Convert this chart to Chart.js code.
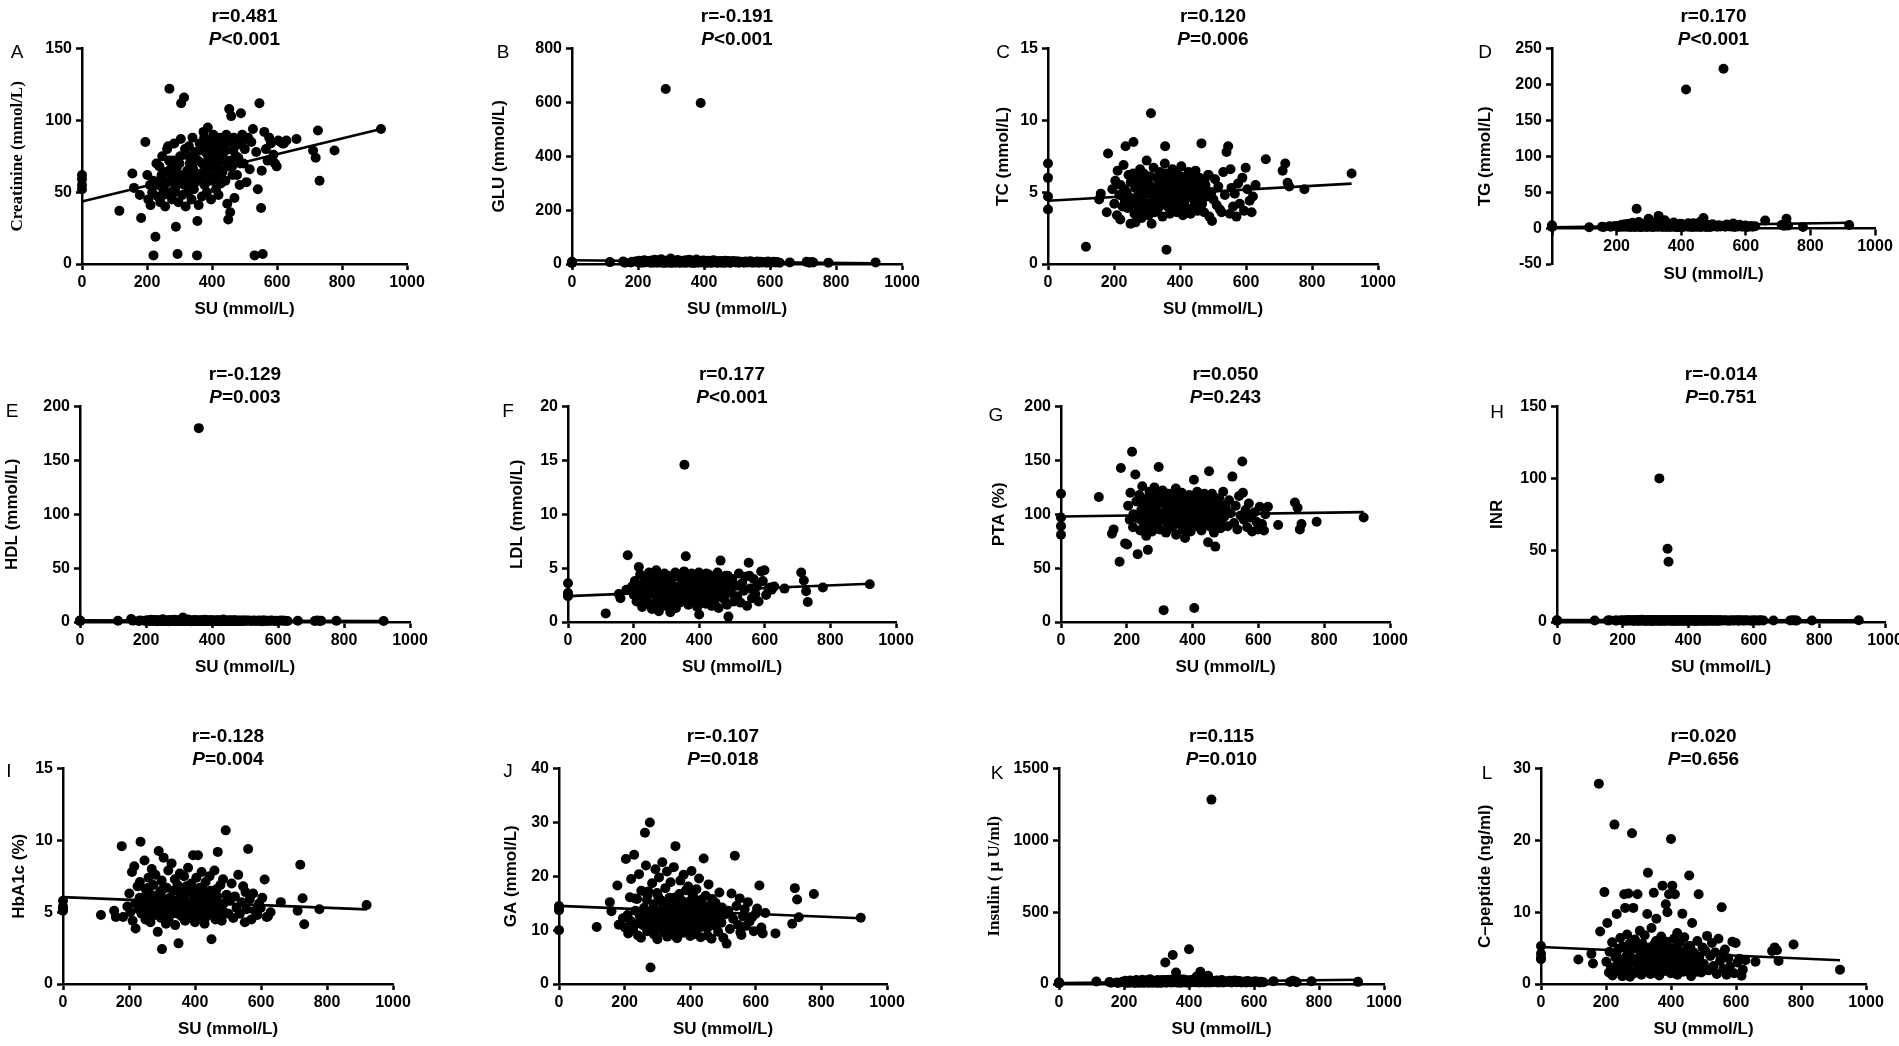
<!DOCTYPE html>
<html>
<head>
<meta charset="utf-8">
<script src="https://cdn.jsdelivr.net/npm/chart.js@4.4.1/dist/chart.umd.min.js"></script>
<style>
html,body{margin:0;padding:0;background:#fff;}
body{width:1899px;height:1046px;position:relative;overflow:hidden;font-family:'Liberation Sans',Arial,sans-serif;color:#000;}
.box{position:absolute;}
.box canvas{display:block;}
.ttl{position:absolute;transform:translateX(-50%);text-align:center;font-weight:bold;font-size:19px;line-height:23px;white-space:nowrap;}
.lt{position:absolute;font-size:19px;transform:translate(-50%,-50%);}
</style>
</head>
<body>
<script>
// SU of every patient (x for all twelve panels)
const su = [
  0,0,0,0,115,155,160,178,182,195,
  201,204,209,211,216,219,220,226,229,233,
  235,238,241,244,247,250,251,256,259,262,
  264,265,269,270,274,277,279,280,284,287,
  289,290,294,297,299,300,304,305,309,312,
  314,315,319,320,324,327,329,330,334,337,
  339,340,344,347,349,350,354,355,359,360,
  364,367,369,370,374,377,379,380,384,387,
  389,390,394,397,399,400,404,405,409,412,
  414,415,419,420,424,427,429,432,435,438,
  441,444,447,450,453,456,459,462,465,469,
  473,477,481,485,489,493,497,501,506,511,
  516,521,526,531,536,541,546,551,556,561,
  566,571,576,581,589,594,599,604,611,617,
  621,629,660,711,719,726,731,777,920,553,
  252,268,276,286,293,302,308,317,325,332,
  342,348,352,357,362,366,372,376,382,386,
  392,396,402,407,411,417,422,426,431,436,
  442,448,454,458,463,467,474,479,487,495,
  232,245,258,272,283,296,318,335,371,398
];

const creatinine = [
  52,55,59,62,37,63,53,48,32,85,
  62,45,55,41,50,58,6,19,70,47,
  55,68,43,60,75,52,48,40,64,80,
  57,82,122,50,66,45,61,72,84,53,
  26,64,7,43,58,70,87,112,48,62,
  116,55,40,76,65,50,82,59,71,45,
  68,88,52,74,62,57,6,30,41,79,
  60,83,47,70,92,55,66,78,50,95,
  63,86,72,45,80,58,90,67,75,52,
  82,61,70,48,88,56,76,64,85,73,
  58,90,42,31,108,36,103,68,79,46,
  84,62,74,55,105,90,70,80,57,88,
  66,85,94,6,78,52,112,39,7,92,
  80,72,88,84,76,70,68,86,85,84,
  84,86,87,79,74,93,58,79,94,65,
  58,72,64,50,68,75,61,80,55,70,
  66,78,59,72,84,63,70,88,57,76,
  69,82,74,60,86,71,77,65,80,73,
  79,68,85,72,62,88,75,83,70,86,
  56,62,49,66,58,71,63,74,81,68
];

const glu = [
  8,6,5,4,7,9,5,6,8,10,
  6,12,7,5,9,14,6,8,11,7,
  9,5,13,7,10,6,16,8,5,12,
  7,10,6,18,9,5,11,7,650,8,
  6,13,9,5,20,7,10,6,12,8,
  5,11,7,15,6,9,5,12,8,10,
  7,5,14,6,9,11,7,16,5,8,
  10,6,8,12,5,17,7,9,6,11,
  8,598,6,10,13,7,5,9,11,6,
  12,7,9,5,10,6,14,8,7,5,
  9,6,11,7,5,10,8,6,12,7,
  6,9,5,8,11,7,6,10,5,8,
  7,5,9,6,8,10,5,7,6,9,
  5,8,6,7,5,9,6,5,8,6,
  7,5,6,8,5,7,6,5,6,7,
  7,10,6,9,12,5,8,11,6,9,
  8,6,11,7,13,5,9,10,6,8,
  12,7,9,5,10,8,6,11,7,9,
  6,9,7,10,5,8,11,6,9,7,
  9,6,10,8,5,12,7,9,6,8
];

const tc = [
  7.0,6.0,4.7,3.8,1.2,4.5,4.9,3.6,7.7,5.2,
  4.2,5.8,3.4,6.5,4.8,3.1,5.5,4.0,6.9,4.4,
  8.2,5.0,3.9,6.2,4.6,2.8,5.7,4.3,8.5,3.5,
  5.3,2.9,6.0,4.1,5.6,3.7,6.6,4.9,3.2,5.9,
  4.5,6.3,3.8,5.1,7.2,4.2,5.5,3.4,6.1,10.5,
  2.8,5.0,4.4,6.7,3.6,5.3,4.7,6.0,3.9,5.6,
  4.3,6.4,5.1,3.3,5.8,4.6,7.0,8.2,1.0,5.2,
  4.8,6.1,3.5,5.5,4.2,6.6,5.0,3.8,5.9,4.5,
  5.3,3.6,6.2,4.7,5.7,4.0,6.8,5.1,3.4,5.6,
  4.4,6.0,5.2,3.9,5.5,4.8,6.3,3.5,5.0,4.6,
  5.8,4.1,6.5,5.3,3.7,4.9,6.0,4.4,8.4,5.2,
  3.6,5.5,4.7,6.2,3.3,5.0,3.0,4.5,5.9,4.1,
  5.4,3.8,3.6,6.4,4.8,7.8,8.2,3.5,5.3,4.0,
  4.9,3.3,5.6,4.2,6.0,3.7,6.7,5.2,4.4,3.6,
  4.7,5.5,7.3,6.5,7.0,5.65,5.4,5.2,6.3,6.6,
  4.6,5.8,4.1,5.3,6.2,4.9,5.5,3.8,5.1,6.0,
  4.4,5.6,4.9,6.3,4.0,5.2,5.9,4.6,5.4,3.9,
  5.7,4.3,6.1,5.0,4.7,5.5,3.7,6.4,4.8,5.3,
  4.5,6.0,5.1,3.9,5.6,4.2,5.8,4.9,6.2,5.0,
  5.2,4.0,6.3,4.7,5.5,3.6,5.0,6.1,4.4,5.7
];

const tg = [
  4,3,2,1.5,1.2,2,1.6,2.5,1.8,3,
  2.2,1.5,3.4,2.0,4.5,1.8,2.6,5.5,1.9,3.1,
  2.4,6.2,1.7,3.8,2.1,7.5,2.9,1.6,4.2,27,
  1.9,3.3,8.5,2.2,4.8,1.5,3.6,2.7,5.1,1.8,
  2.9,4.4,1.6,6.8,13,2.3,3.7,9.5,1.9,2.8,
  4.1,1.7,3.2,5.9,2.4,7.1,1.8,17,3.5,2.1,
  2.6,4.9,1.9,3.4,11,2.2,5.3,1.6,2.9,6.4,
  1.8,3.7,2.5,4.6,1.9,7.9,2.8,3.3,1.5,5.2,
  2.3,4.0,1.7,3.1,6.0,2.6,1.9,4.7,2.2,3.6,
  3.0,193,2.4,5.6,1.8,3.9,2.7,4.4,1.6,6.9,
  2.1,3.5,1.9,5.0,2.6,4.2,8.8,1.7,3.2,14,
  2.8,1.6,4.5,2.3,3.7,1.9,5.4,2.5,3.0,1.8,
  4.1,2.2,3.4,222,1.9,5.1,2.7,3.8,2.1,6.3,
  1.7,3.2,2.4,4.6,1.9,2.8,3.5,1.6,2.2,3.0,
  1.9,2.5,10.6,4.4,3.1,13,3.7,1.5,4.2,2.6,
  2.4,3.8,1.7,5.2,2.9,4.1,1.9,6.3,2.6,3.4,
  1.8,4.6,2.7,3.1,5.8,2.0,3.9,2.5,4.4,1.6,
  3.3,2.1,5.5,1.9,4.0,2.8,6.6,3.5,2.2,4.8,
  2.6,3.7,1.8,5.0,2.9,4.3,2.1,3.6,1.7,3.0,
  3.9,2.3,4.7,1.9,3.2,5.6,2.5,4.1,2.8,3.4
];

const hdl = [
  1.2,1.0,1.4,0.9,1.1,2.8,1.3,1.0,1.5,1.2,
  1.1,1.6,0.9,1.3,2.2,1.0,1.4,1.2,1.8,0.8,
  1.3,1.0,1.7,1.2,0.9,1.5,2.5,1.1,1.3,1.0,
  1.4,1.2,0.8,1.6,1.1,1.9,1.0,1.3,1.2,2.1,
  1.0,1.5,1.2,0.9,1.4,1.1,1.7,1.0,1.3,4.2,
  1.2,0.9,1.6,1.1,1.3,2.4,1.0,1.4,1.2,0.8,
  1.5,1.1,1.3,1.0,1.8,1.2,0.9,1.4,1.1,180,
  1.3,1.0,1.6,1.2,0.9,1.4,2.0,1.1,1.3,1.0,
  1.2,1.4,1.0,1.7,1.1,1.3,0.9,1.5,1.2,1.0,
  1.1,1.3,1.6,1.0,1.2,0.8,1.4,1.1,2.3,1.2,
  1.0,1.5,1.2,0.9,1.3,1.1,1.4,1.0,1.2,1.6,
  1.3,1.0,1.1,1.4,0.9,1.2,1.0,1.5,1.1,1.3,
  1.2,0.9,1.3,1.1,1.0,1.4,1.2,0.8,1.1,1.3,
  1.0,1.2,1.1,1.3,0.9,1.2,1.0,1.1,1.4,1.2,
  1.1,1.0,1.2,0.9,1.3,1.0,1.1,1.2,1.0,1.3,
  1.2,1.0,1.4,1.1,1.3,0.9,1.5,1.2,1.0,1.3,
  1.1,1.4,0.9,1.2,1.3,1.0,1.6,1.1,1.2,1.0,
  1.3,1.1,1.2,1.0,1.4,0.9,1.2,1.3,1.1,1.0,
  1.0,1.2,1.3,1.1,0.9,1.4,1.0,1.2,1.1,1.3,
  1.4,1.1,1.0,1.3,1.2,1.0,1.5,1.1,1.2,0.9
];

const ldl = [
  3.6,2.7,2.4,2.5,0.8,2.6,2.2,3.0,6.2,3.3,
  2.5,3.8,1.9,3.1,5.1,2.3,4.4,1.4,3.5,2.8,
  4.0,2.1,3.3,1.7,4.6,2.9,3.7,1.2,2.6,4.2,
  3.0,1.8,4.8,2.4,3.5,1.0,4.1,2.7,3.2,1.6,
  3.9,2.2,4.5,1.5,3.0,2.6,4.3,1.9,3.6,0.9,
  2.8,4.0,1.7,3.4,2.3,4.6,1.3,3.1,2.5,4.2,
  3.3,1.8,4.4,2.7,3.8,2.0,4.7,14.6,6.1,2.9,
  3.5,1.6,4.1,2.4,3.0,4.5,1.9,3.7,2.6,4.3,
  2.2,3.9,1.4,3.2,4.6,0.7,2.8,3.6,1.8,4.0,
  3.4,2.5,4.2,1.7,3.1,2.3,4.4,2.0,3.7,1.5,
  2.9,4.1,1.9,3.5,2.4,4.6,1.3,3.0,5.7,2.6,
  3.8,2.1,4.3,1.6,0.5,3.2,2.7,4.0,1.9,3.4,
  2.4,4.5,1.8,3.6,2.9,4.2,1.5,5.5,3.1,2.2,
  4.0,2.6,3.3,1.9,4.7,3.8,4.8,2.5,3.1,3.2,
  3.0,3.3,3.1,4.6,3.85,2.86,1.85,3.2,3.5,4.3,
  2.8,3.6,2.2,4.1,3.0,2.5,3.9,3.3,2.7,4.3,
  3.1,2.4,3.8,2.9,4.4,2.1,3.5,2.6,4.0,3.2,
  2.5,4.2,3.0,3.7,2.3,3.4,4.5,2.8,3.6,2.0,
  3.9,2.7,3.3,4.1,2.4,3.0,3.7,2.9,4.3,3.5,
  3.2,2.6,4.0,3.4,2.2,3.8,2.9,4.4,3.1,2.7
];

const pta = [
  119,97,89,81,116,82,86,56,143,73,
  72,108,95,120,158,88,100,137,112,63,
  96,118,85,104,126,92,110,99,80,115,
  67,102,121,90,107,84,113,97,125,88,
  105,93,117,144,100,86,111,95,122,11,
  98,114,83,106,91,119,102,87,109,96,
  116,89,103,94,124,81,108,99,113,92,
  104,120,86,97,111,78,115,101,90,107,
  95,118,84,103,112,91,132,13,99,108,
  121,89,106,97,114,85,102,117,93,109,
  96,112,74,140,104,88,119,100,83,70,
  110,94,115,87,103,121,98,106,89,113,
  101,135,92,108,86,117,99,149,95,104,
  88,110,97,84,102,93,86,107,91,85,
  100,107,90,111,106,86,91,93,97,120,
  104,93,112,98,88,116,101,95,108,90,
  99,110,92,105,118,96,87,103,113,100,
  94,107,115,89,102,97,111,92,106,119,
  101,90,109,96,114,87,104,99,93,108,
  97,112,89,105,100,93,118,102,95,110
];

const inr = [
  1.1,1.0,1.2,0.9,1.1,1.0,1.3,1.1,1.0,1.2,
  1.0,1.1,0.9,1.2,1.0,1.4,1.1,1.0,1.2,0.9,
  1.1,1.0,1.3,1.1,0.9,1.2,1.0,1.1,1.5,1.0,
  1.2,1.1,1.0,0.9,1.3,1.0,1.1,1.2,1.0,1.1,
  0.9,1.2,1.1,1.0,1.4,1.1,1.0,1.2,0.9,100,
  1.1,1.0,1.2,1.1,0.9,1.3,1.0,1.1,1.2,51,
  1.0,42,1.1,1.2,1.0,0.9,1.3,1.1,1.0,1.2,
  1.1,0.9,1.2,1.0,1.1,1.3,1.0,1.2,0.9,1.1,
  1.0,1.2,1.1,0.9,1.3,1.0,1.1,1.2,1.0,1.1,
  1.2,1.0,1.1,1.3,0.9,1.1,1.0,1.2,1.1,1.0,
  1.1,1.2,1.0,0.9,1.1,1.3,1.0,1.1,1.2,1.0,
  1.0,1.1,1.2,1.0,0.9,1.1,1.3,1.0,1.1,1.2,
  1.1,1.0,0.9,1.2,1.1,1.0,1.2,1.1,1.0,1.3,
  1.0,1.1,1.2,1.0,1.1,0.9,1.2,1.0,1.1,1.0,
  1.2,1.0,1.1,1.0,1.2,1.1,1.0,1.1,1.2,1.0,
  1.1,1.0,1.2,1.1,0.9,1.2,1.0,1.1,1.3,1.0,
  1.0,1.2,1.1,0.9,1.1,1.0,1.2,1.1,1.0,1.2,
  1.2,1.1,1.0,1.1,1.3,1.0,1.1,0.9,1.2,1.1,
  1.0,1.1,1.2,1.0,1.1,1.2,0.9,1.1,1.0,1.1,
  1.1,1.2,1.0,1.1,1.0,1.3,1.1,1.0,1.2,1.1
];

const hba1c = [
  5.8,5.4,5.1,5.2,4.8,5.1,4.66,9.6,4.66,5.4,
  6.3,5.0,7.8,4.4,8.2,5.6,3.86,6.8,5.2,7.1,
  9.9,4.9,6.0,5.5,8.6,4.5,6.6,5.8,7.4,5.1,
  6.2,4.3,8.0,5.7,6.9,4.8,5.3,7.6,6.1,3.63,
  5.0,9.26,6.4,4.6,7.2,2.43,5.9,8.8,5.4,4.2,
  6.7,5.2,7.9,4.5,6.0,5.6,8.4,4.9,6.5,5.3,
  7.3,4.1,5.8,6.9,5.0,2.83,7.7,5.5,6.3,4.7,
  6.0,7.5,5.1,4.4,6.8,5.7,8.1,4.8,6.4,5.2,
  7.0,4.6,8.96,5.9,6.5,4.3,7.4,5.4,8.96,6.1,
  5.0,6.7,4.7,7.8,5.6,6.2,4.2,7.1,5.3,6.0,
  4.8,7.5,5.7,3.12,6.4,5.1,7.9,4.5,6.6,9.2,
  5.5,6.9,4.4,7.3,5.0,10.7,6.2,4.9,5.8,7.0,
  4.6,6.1,5.3,7.6,4.9,5.7,6.8,4.3,5.2,9.4,
  5.9,4.5,6.3,5.1,4.8,5.6,5.3,6.0,7.28,4.66,
  4.7,5.0,5.7,5.1,8.3,5.97,4.16,5.2,5.5,6.4,
  5.4,6.2,4.8,5.9,5.1,6.6,4.6,5.7,6.0,5.2,
  5.8,4.9,6.4,5.3,5.6,6.1,4.7,5.5,6.8,5.0,
  6.3,5.1,5.7,4.8,6.0,5.4,6.7,5.2,4.6,5.9,
  5.0,6.5,5.3,5.8,4.7,6.1,5.5,4.9,5.6,6.2,
  6.0,5.3,6.7,4.9,5.6,6.3,5.1,5.8,5.4,6.6
];

const ga = [
  14.5,13.7,10.0,14.0,10.6,15.2,13.5,18.3,11.0,12.2,
  10.5,23.2,12.8,9.4,16.1,11.7,19.5,10.2,24.0,13.6,
  11.2,15.8,9.0,20.4,12.5,8.6,17.3,10.9,14.1,28.1,
  13.0,22.0,9.8,16.5,11.5,30.0,3.06,12.3,18.7,10.1,
  14.8,9.2,21.3,11.8,16.9,8.3,13.4,19.8,10.7,15.5,
  12.0,22.6,9.6,14.3,17.8,11.1,20.9,8.8,13.1,16.0,
  10.4,18.9,12.6,15.0,9.1,21.7,11.4,25.6,14.6,8.5,
  13.3,16.7,10.0,19.2,12.1,9.5,14.9,20.3,11.0,17.4,
  9.9,13.8,18.1,10.8,15.3,8.9,21.0,12.4,16.2,11.3,
  14.4,9.3,17.6,12.8,10.3,19.6,13.5,8.7,15.7,11.9,
  23.3,10.6,16.4,12.2,9.0,18.5,11.6,14.7,8.4,13.2,
  10.9,15.1,12.7,9.7,17.0,11.4,14.2,8.6,12.9,7.5,
  13.6,10.2,16.8,12.1,23.8,14.5,11.0,15.9,9.1,12.6,
  13.9,10.8,15.2,11.6,12.4,9.8,13.0,14.0,18.3,10.5,
  9.4,13.2,9.4,11.2,17.8,15.7,12.4,16.7,12.3,9.6,
  12.4,15.6,10.8,13.9,11.5,16.3,12.9,10.2,14.6,11.8,
  13.5,10.6,16.0,12.2,14.8,11.1,13.2,15.4,10.4,12.7,
  14.1,11.9,12.8,16.6,10.7,13.6,11.3,15.0,12.0,10.9,
  12.5,14.3,10.5,13.0,11.7,15.8,12.3,10.8,14.0,11.4,
  15.9,13.1,11.6,17.2,12.6,10.3,14.4,12.1,13.8,15.3
];

const insulin = [
  8,5,12,6,18,14,9,11,7,15,
  10,22,8,16,12,25,9,14,19,7,
  13,28,10,17,9,21,12,30,8,15,
  11,19,14,26,9,16,12,33,10,18,
  14,9,23,12,17,10,28,13,19,8,
  16,11,24,13,20,150,9,27,14,18,
  12,30,15,10,22,202,13,25,17,80,
  20,11,27,14,9,18,24,12,32,15,
  10,21,13,26,16,242,19,11,28,14,
  17,23,12,29,53,15,21,10,85,18,
  13,26,16,11,35,19,57,14,22,1284,
  12,20,15,24,10,18,13,27,11,16,
  19,14,22,10,17,25,12,15,20,11,
  14,18,10,21,13,16,12,19,15,11,
  16,12,20,14,22,18,12,19,15,21,
  14,20,11,25,16,9,22,13,18,27,
  12,19,28,15,10,23,17,31,13,20,
  24,11,18,14,29,16,21,12,26,15,
  17,23,13,20,11,26,15,18,22,14,
  21,13,16,24,12,19,27,15,18,11
];

const cpeptide = [
  5.3,4.2,3.45,3.6,3.4,4.2,2.85,27.9,7.3,12.8,
  3.1,8.5,1.6,4.5,2.3,5.8,1.2,22.2,3.7,9.75,
  2.6,4.9,1.8,6.4,3.3,1.1,5.2,12.5,10.6,2.0,
  4.0,6.9,12.6,2.8,1.0,5.5,3.6,21.0,10.6,1.5,
  6.2,3.0,1.7,12.5,4.8,2.4,7.4,3.9,1.3,5.6,
  2.7,4.4,6.8,1.9,3.5,9.75,15.5,2.2,5.1,1.4,
  4.6,7.8,2.9,12.7,1.6,3.8,6.0,9.1,2.5,4.3,
  1.2,5.4,3.2,6.6,13.7,2.1,4.7,1.8,11.1,3.4,
  10.0,2.6,12.5,5.0,1.5,20.2,13.7,3.7,6.3,12.5,
  2.0,4.5,7.1,1.3,3.3,5.8,2.4,4.0,9.8,1.7,
  6.5,3.1,1.9,4.9,2.7,15.1,5.3,1.1,8.5,3.6,
  4.2,2.2,6.0,12.5,3.0,1.6,5.1,2.8,4.6,6.7,
  1.9,3.9,5.7,2.5,4.4,1.4,6.3,3.2,10.7,2.1,
  4.8,1.3,3.6,2.4,5.9,1.5,5.7,3.0,3.5,1.15,
  2.0,3.3,3.1,4.6,5.1,4.7,3.2,5.5,2.0,4.0,
  3.4,2.1,4.7,3.0,5.2,2.6,3.8,1.8,4.3,2.9,
  3.7,5.5,2.4,4.1,1.9,3.2,4.8,2.7,3.5,5.9,
  2.3,4.4,3.1,1.6,5.0,3.6,2.8,4.6,1.9,3.9,
  4.0,2.5,5.3,3.3,2.0,4.5,3.0,1.7,3.8,2.6,
  4.2,3.1,2.2,5.6,3.4,2.7,4.9,3.7,2.4,4.6
];

const series = [creatinine, glu, tc, tg, hdl, ldl, pta, inr, hba1c, ga, insulin, cpeptide];
const yTitles = ['Creatinine (mmol/L)','GLU (mmol/L)','TC (mmol/L)','TG (mmol/L)',
  'HDL (mmol/L)','LDL (mmol/L)','PTA (%)','INR',
  'HbA1c (%)','GA (mmol/L)','Insulin ( \u03bc U/ml)','C\u2013peptide (ng/ml)'];
const letters = ['A','B','C','D','E','F','G','H','I','J','K','L'];
const rValues = ['0.481','-0.191','0.120','0.170','-0.129','0.177','0.050','-0.014','-0.128','-0.107','0.115','0.020'];
const pValues = ['<0.001','<0.001','=0.006','<0.001','=0.003','<0.001','=0.243','=0.751','=0.004','=0.018','=0.010','=0.656'];
const yMin = [0,0,0,-50,0,0,0,0,0,0,0,0];
const yMax = [150,800,15,250,200,20,200,150,15,40,1500,30];
const yStep = [50,200,5,50,50,5,50,50,5,10,500,10];
const xMax = 1000, xStep = 200;
// regression line, read at SU = 0 and at the largest SU
const fitAt0 = [43.5,14,4.4,1,1.6,2.4,98,1.3,6.05,14.5,6,5.15];
const fitAtEnd = [94,3,5.6,7.5,0.9,3.55,102,1.1,5.2,12.2,30,3.3];

// page layout: y-axis x, plot top, plot width, y-title offset, letter position
const layout = [
  {ax:82,  top:47,  w:325, off:65, lx:17,   ly:52},
  {ax:572, top:47,  w:330, off:73, lx:503,  ly:52},
  {ax:1048,top:47,  w:330, off:45, lx:1003, ly:52},
  {ax:1552,top:47,  w:323, off:67, lx:1485, ly:52},
  {ax:80,  top:405, w:330, off:68, lx:12,   ly:411},
  {ax:568, top:405, w:328, off:51, lx:508,  ly:411},
  {ax:1061,top:405, w:329, off:62, lx:996,  ly:415},
  {ax:1557,top:405, w:328, off:60, lx:1497, ly:412},
  {ax:63,  top:767, w:330, off:44, lx:9,    ly:771},
  {ax:559, top:767, w:328, off:48, lx:508,  ly:771},
  {ax:1059,top:767, w:325, off:65, lx:997,  ly:773},
  {ax:1541,top:767, w:325, off:56, lx:1487, ly:773}
];

const SANS = "'Liberation Sans', Arial, sans-serif";
const SERIF = "'Liberation Serif', 'Times New Roman', serif";
Chart.defaults.font.family = SANS;
Chart.defaults.color = '#000';

const PLOT_H = 217, PAD_TOP = 12, PAD_RIGHT = 26, X_H = 56;
const suMax = Math.max(...su);
const tickFont = {size:16, weight:'bold', family:SANS};
const axisLine = {
  grid:{drawOnChartArea:false, tickLength:6, tickWidth:2.5, tickColor:'#000'},
  border:{display:true, color:'#000', width:2.5}
};

layout.forEach((p, i) => {
  const wy = p.off + 10;
  const shifted = yMin[i] < 0;

  const box = document.createElement('div');
  box.className = 'box';
  box.style.left = (p.ax - wy) + 'px';
  box.style.top = (p.top - PAD_TOP) + 'px';
  box.style.width = (wy + p.w + PAD_RIGHT) + 'px';
  box.style.height = (PAD_TOP + PLOT_H + (shifted ? 26 : X_H)) + 'px';
  const cv = document.createElement('canvas');
  box.appendChild(cv);
  document.body.appendChild(box);

  const ttl = document.createElement('div');
  ttl.className = 'ttl';
  ttl.style.left = (p.ax + p.w / 2) + 'px';
  ttl.style.top = (p.top - 43) + 'px';
  ttl.innerHTML = '<div>r=' + rValues[i] + '</div><div><i>P</i>' +
    pValues[i].replace('<', '&lt;') + '</div>';
  document.body.appendChild(ttl);

  const lt = document.createElement('div');
  lt.className = 'lt';
  lt.style.left = p.lx + 'px';
  lt.style.top = p.ly + 'px';
  lt.textContent = letters[i];
  document.body.appendChild(lt);

  new Chart(cv, {
    type:'scatter',
    data:{
      datasets:[
        {
          type:'line',
          data:[{x:0, y:fitAt0[i]}, {x:suMax, y:fitAtEnd[i]}],
          borderColor:'#000', borderWidth:2.6, pointRadius:0, clip:false
        },
        {
          data: su.map((x, k) => ({x, y: series[i][k]})),
          backgroundColor:'#000', borderWidth:0, pointRadius:5, clip:false
        }
      ]
    },
    options:{
      responsive:true, maintainAspectRatio:false, animation:false, events:[],
      layout:{padding:{top:PAD_TOP, right:PAD_RIGHT, bottom:shifted ? 26 : 0, left:0}},
      plugins:{legend:{display:false}, tooltip:{enabled:false}},
      scales:{
        x:{
          type:'linear', min:0, max:xMax,
          position: shifted ? {y:0} : 'bottom',
          ticks:{stepSize:xStep, font:tickFont, padding:3, maxRotation:0,
            callback: v => (shifted && v === 0) ? '' : String(v)},
          ...axisLine,
          title:{display:true, text:'SU (mmol/L)', padding:0,
            font:{size:17, weight:'bold', family:SANS}},
          afterFit: s => { s.height = X_H; }
        },
        y:{
          type:'linear', min:yMin[i], max:yMax[i],
          ticks:{stepSize:yStep[i], font:tickFont, padding:4, callback: v => String(v)},
          ...axisLine,
          title:{display:true, text:yTitles[i], padding:0,
            font:{size:17, weight:'bold', family:(i === 0 || i === 10) ? SERIF : SANS}},
          afterFit: s => { s.width = wy; }
        }
      }
    }
  });
});
</script>
</body>
</html>
